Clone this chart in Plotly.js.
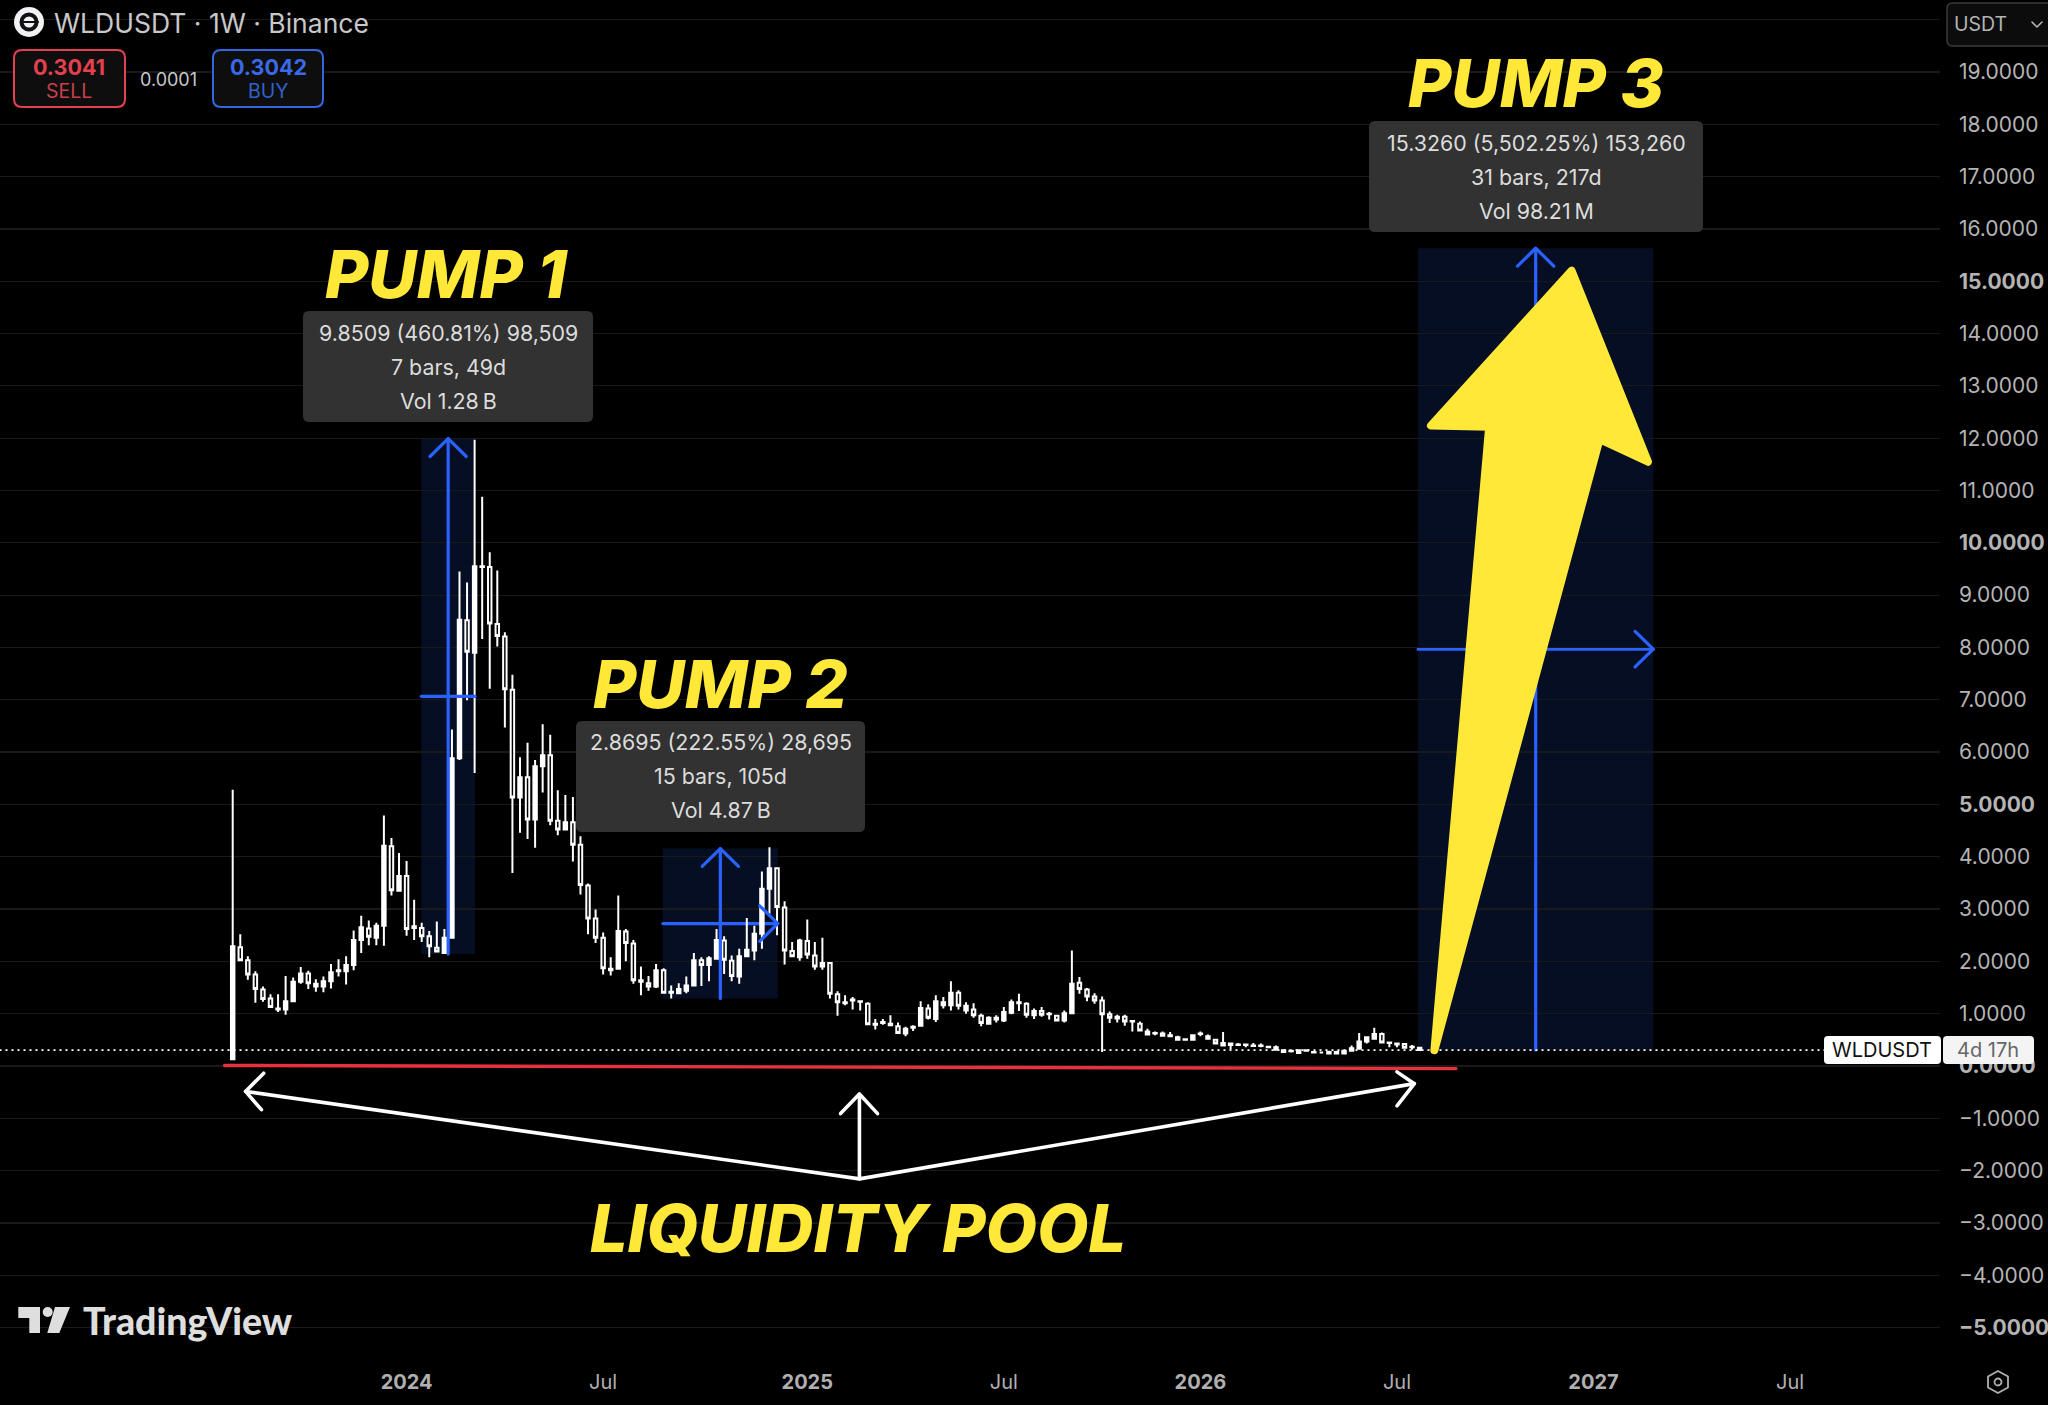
<!DOCTYPE html>
<html><head><meta charset="utf-8">
<script src="https://cdn.plot.ly/plotly-3.0.1.min.js"></script>
<style>html,body{margin:0;padding:0;background:#000}.shapelayer path,.layer-above path,.layer-below path{stroke-linejoin:round;stroke-linecap:round}</style>
</head><body><div id="chart" style="width:2048px;height:1405px"></div>
<script>
const firstWeek = '2023-07-24';
const opens = [.13,2.27,2.02,1.75,1.46,1.29,1.10,1.08,1.24,1.61,
1.77,1.52,1.52,1.62,1.81,1.81,1.93,2.41,2.63,2.45,
2.68,4.20,3.35,3.63,2.64,2.64,2.48,2.26,2.16,2.45,
5.88,8.52,7.90,9.55,9.54,8.45,8.21,7.19,5.13,5.52,
4.71,5.73,5.94,4.69,4.52,4.66,4.23,3.45,2.82,2.45,
1.83,1.86,2.57,2.34,1.64,1.58,1.52,1.83,1.40,1.39,
1.44,1.54,2.02,1.93,2.05,2.40,2.01,1.71,2.10,2.21,
2.53,3.39,3.78,3.03,2.20,2.08,2.39,2.11,1.90,1.97,
1.37,1.20,1.27,1.24,1.19,.81,.82,.78,.76,.62,
.75,.77,1.10,.90,1.22,1.16,1.40,1.06,1.08,.96,
.81,.89,.87,1.02,1.20,1.19,.97,1.05,1.00,.96,
.87,1.01,1.59,1.46,1.33,1.25,.99,.94,.94,.86,
.81,.66,.63,.58,.59,.50,.51,.50,.61,.57,
.50,.39,.43,.41,.41,.38,.39,.37,.31,.27,
.29,.25,.29,.27,.26,.24,.24,.24,.29,.33,
.47,.52,.61,.45,.43,.42,.37,.35];
const highs = [5.28,2.52,2.10,1.81,1.52,1.37,1.37,1.72,1.69,1.89,
1.82,1.66,1.71,1.95,2.04,2.10,2.59,2.87,2.78,2.74,
4.79,4.36,4.07,3.92,3.18,2.74,2.58,2.76,2.62,6.43,
9.45,9.24,11.97,10.88,9.82,9.47,8.29,7.48,5.90,6.18,
5.85,6.53,6.33,5.27,5.18,5.14,4.39,3.49,2.99,2.55,
2.08,3.26,2.62,2.41,1.90,1.72,1.95,1.87,1.54,1.58,
1.71,2.16,2.08,2.10,2.62,2.48,2.11,2.24,2.83,2.68,
3.72,4.18,3.80,3.15,2.37,2.43,2.80,2.37,2.45,1.98,
1.43,1.35,1.32,1.25,1.22,.90,.90,.97,.83,.75,
.78,1.24,1.18,1.35,1.32,1.62,1.45,1.22,1.20,1.00,
.95,.97,1.13,1.27,1.38,1.22,1.10,1.13,1.03,.97,
1.06,2.21,1.70,1.49,1.39,1.33,1.04,.98,.98,.87,
.85,.71,.66,.66,.65,.58,.52,.60,.66,.60,
.52,.65,.45,.44,.42,.44,.43,.38,.39,.31,
.31,.31,.32,.27,.27,.29,.29,.31,.39,.63,
.57,.73,.64,.45,.44,.44,.40,.36];
const lows = [.13,2.00,1.65,1.21,1.23,1.11,1.03,.98,1.23,1.57,
1.47,1.42,1.41,1.48,1.71,1.56,1.83,2.16,2.31,2.31,
2.30,3.26,3.34,2.49,2.41,2.37,2.08,2.17,2.14,2.43,
5.85,6.99,5.60,8.16,7.21,8.02,6.47,3.69,4.46,4.34,
4.17,5.23,4.60,4.41,4.51,3.91,3.28,2.52,2.35,1.75,
1.73,1.85,2.00,1.57,1.35,1.44,1.49,1.39,1.29,1.37,
1.39,1.52,1.53,1.62,2.05,1.76,1.62,1.57,2.08,2.02,
2.24,2.91,2.50,1.94,2.08,2.01,2.05,1.84,1.84,1.29,
.96,1.16,1.08,1.06,.78,.70,.79,.76,.62,.57,
.67,.76,.89,.84,1.10,1.06,1.08,1.00,.92,.76,
.79,.83,.84,.99,1.05,.92,.90,.94,.89,.86,
.83,1.00,1.38,1.24,1.19,.27,.82,.83,.77,.66,
.66,.59,.59,.57,.56,.49,.49,.49,.57,.50,
.42,.38,.32,.38,.36,.37,.36,.35,.30,.26,
.26,.24,.28,.25,.25,.24,.23,.23,.28,.32,
.43,.50,.44,.36,.36,.34,.31,.30];
const closes = [2.29,2.02,1.75,1.47,1.28,1.13,1.08,1.24,1.61,1.77,
1.58,1.57,1.62,1.79,1.83,1.93,2.41,2.65,2.47,2.68,
4.21,3.36,3.63,2.62,2.67,2.48,2.29,2.19,2.45,5.88,
8.53,7.92,9.55,9.54,8.46,8.22,7.20,5.13,5.52,4.71,
5.73,5.94,4.69,4.52,4.66,4.23,3.46,2.82,2.45,1.87,
1.86,2.58,2.35,1.64,1.61,1.52,1.83,1.40,1.42,1.47,
1.54,2.02,1.93,2.06,2.41,2.03,1.72,2.10,2.22,2.53,
3.39,3.78,3.04,2.21,2.10,2.40,2.13,1.90,1.97,1.38,
1.22,1.22,1.25,1.23,.80,.79,.84,.81,.63,.71,
.73,1.11,.92,1.24,1.16,1.40,1.15,1.15,.97,.82,
.92,.92,1.03,1.22,1.22,.98,1.05,.98,.99,.87,
1.01,1.57,1.47,1.33,1.25,.99,.92,.91,.85,.85,
.68,.60,.62,.62,.57,.55,.50,.59,.62,.52,
.43,.44,.40,.40,.40,.39,.38,.36,.36,.30,
.28,.30,.30,.26,.26,.27,.27,.29,.34,.47,
.55,.61,.45,.44,.41,.35,.36,.304];

const lastPrice = 0.304;
const priceTicks = [-5,-4,-3,-2,-1,0,1,2,3,4,5,6,7,8,9,10,11,12,13,14,15,16,17,18,19,20];
const boldPrices = [-5,0,5,10,15];
const timeTicks = ['2024-01-01','2024-07-01','2025-01-06','2025-07-07','2026-01-05','2026-07-06','2027-01-04','2027-07-05'];
const timeLabels = ['<b>2024</b>','Jul','<b>2025</b>','Jul','<b>2026</b>','Jul','<b>2027</b>','Jul'];

// measured ranges: first bar, last bar, low, high
const pumpNames = ['PUMP 1','PUMP 2','PUMP 3'];
const pumpStart = [24.95,56.9,156.8];
const pumpEnd = [32.05,72.1,187.9];
const pumpLow = [2.14,1.29,0.305];
const pumpHigh = [11.99,4.155,15.63];
const pumpStats = [
  ['9.8509 (460.81%) 98,509','7 bars, 49d','Vol 1.28\u2009B'],
  ['2.8695 (222.55%) 28,695','15 bars, 105d','Vol 4.87\u2009B'],
  ['15.3260 (5,502.25%) 153,260','31 bars, 217d','Vol 98.21\u2009M']];

// drawing: [bar, value] anchor points
const yellowArrow = [[177.1,15.2],[158.5,12.24],[166.2,12.22],[158.95,0.3],[180.8,11.98],[187.2,11.55]];
const poolFork = [82.9,-2.157];
const poolLeft = [1.7,-0.486], poolLeftHead = [[4.1,-0.137],[3.8,-0.835]];
const poolRight = [156.3,-0.337], poolRightHead = [[154.0,-0.112],[154.0,-0.761]];
const poolUp = [82.9,-0.536], poolUpHead = [[80.4,-0.91],[85.3,-0.91]];
const redLine = [[-1.07,0.01],[161.8,-0.05]];

const BLUE='#2962ff', YEL='#ffe838', PLOTW=1940, PLOTH=1358;
const t0 = Date.parse(firstWeek+'T00:00:00Z');
const D = b => new Date(t0 + b*7*864e5).toISOString().slice(0,19).replace('T',' ');
const DP = b => D(b).replace(' ','_');
const weeks = opens.map((_,i)=>D(i));
const PX = x => x/PLOTW, PY = y => 1-y/PLOTH;

const shapes=[], annotations=[];
const dataPath = (pts,close) => pts.map((p,i)=>(i?'L':'M')+DP(p[0])+' '+p[1]).join(' ')+(close?' Z':'');
function polyline(pts,color,w,layer){shapes.push({type:'path',xref:'x',yref:'y',path:dataPath(pts),line:{color:color,width:w},layer:layer||'above'});}
pumpNames.forEach((n,i)=>{
  const s=pumpStart[i],e=pumpEnd[i],lo=pumpLow[i],hi=pumpHigh[i],mx=(s+e)/2,my=(lo+hi)/2;
  shapes.push({type:'rect',xref:'x',yref:'y',x0:D(s),x1:D(e),y0:lo,y1:hi,fillcolor:'rgba(41,98,255,0.14)',line:{width:0},layer:'below'});
  polyline([[s,my],[e,my]],BLUE,3.2,i===0?'above':'below');
  polyline([[mx,lo],[mx,hi]],BLUE,3.2);
  polyline([[mx-2.4,hi-0.34],[mx,hi],[mx+2.4,hi-0.34]],BLUE,3.2);
  if(i>0) polyline([[e-2.4,my+0.34],[e,my],[e-2.4,my-0.34]],BLUE,3.2);
});
shapes.push({type:'line',xref:'paper',yref:'y',x0:0,x1:1,y0:lastPrice,y1:lastPrice,line:{color:'#ffffff',width:1.6,dash:'1px 5px'},layer:'above'});
polyline(redLine,'#e6323f',3.4);
polyline([poolLeft,poolFork,poolRight],'#ffffff',3.6);
polyline([poolUp,poolFork],'#ffffff',3.6);
polyline([poolLeftHead[0],poolLeft,poolLeftHead[1]],'#ffffff',3.6);
polyline([poolRightHead[0],poolRight,poolRightHead[1]],'#ffffff',3.6);
polyline([poolUpHead[0],poolUp,poolUpHead[1]],'#ffffff',3.6);
shapes.push({type:'path',xref:'x',yref:'y',path:dataPath(yellowArrow,true),fillcolor:YEL,line:{color:YEL,width:8},layer:'above'});

// screen chrome
function rr(x0,y0,x1,y1,r){const X=PX,Y=PY,kx=r,ky=r;return `M${X(x0+kx)} ${Y(y0)} L${X(x1-kx)} ${Y(y0)} Q${X(x1)} ${Y(y0)} ${X(x1)} ${Y(y0+ky)} L${X(x1)} ${Y(y1-ky)} Q${X(x1)} ${Y(y1)} ${X(x1-kx)} ${Y(y1)} L${X(x0+kx)} ${Y(y1)} Q${X(x0)} ${Y(y1)} ${X(x0)} ${Y(y1-ky)} L${X(x0)} ${Y(y0+ky)} Q${X(x0)} ${Y(y0)} ${X(x0+kx)} ${Y(y0)} Z`;}
function box(x0,y0,x1,y1,r,fill,stroke,w){shapes.push({type:'path',xref:'paper',yref:'paper',path:rr(x0,y0,x1,y1,r),fillcolor:fill,line:stroke?{color:stroke,width:w||2}:{width:0},layer:'above'});}
function pxPath(pts,fill,stroke,w){shapes.push({type:'path',xref:'paper',yref:'paper',path:pts.map((p,i)=>(i?'L':'M')+PX(p[0])+' '+PY(p[1])).join(' ')+(fill?' Z':''),fillcolor:fill||'rgba(0,0,0,0)',line:stroke?{color:stroke,width:w}:{width:0},layer:'above'});}
function circ(cx,cy,r,fill,stroke,w){shapes.push({type:'circle',xref:'paper',yref:'paper',x0:PX(cx-r),x1:PX(cx+r),y0:PY(cy+r),y1:PY(cy-r),fillcolor:fill,line:stroke?{color:stroke,width:w}:{width:0},layer:'above'});}
function note(text,x,y,size,color,o){o=o||{};annotations.push({text:text,xref:'paper',yref:'paper',x:PX(x),y:PY(y),xanchor:o.anchor||'center',yanchor:'middle',showarrow:false,
  font:{family:o.family||'Inter, sans-serif',size:size,color:color,weight:o.weight||400,style:o.style||'normal'}});}

const tipBox=[[303,311,593,422],[576,721,865,832],[1369,121,1703,232]];
const tipLines=[[333,367,401],[742,776,810],[143,177,211]];
const bigPos=[[446,274],[720,684],[1536,83]];
pumpNames.forEach((n,i)=>{
  const b=tipBox[i];box(b[0],b[1],b[2],b[3],6,'#323232');
  pumpStats[i].forEach((t,j)=>note(t,(b[0]+b[2])/2,tipLines[i][j],21.4,'#dcdcdc'));
  note(n,bigPos[i][0],bigPos[i][1],66.5,YEL,{weight:800,style:'italic'});
});
note('LIQUIDITY POOL',858,1228,66.5,YEL,{weight:800,style:'italic'});

// header
circ(29,22,15,'#f2f2f5');circ(29,22,9.5,'#111');circ(29,22,5.5,'#f2f2f5');
pxPath([[22,22],[38,22]],null,'#111',2);
note('WLDUSDT · 1W · Binance',52,23,26.5,'#c8c8c8',{anchor:'left'});
box(14,50,125,107,8,'#0e0e0e','#e5404f',2);
note('0.3041',69,67,21.5,'#e5404f',{weight:700});note('SELL',69,91,19.5,'#c8404c');
note('0.0001',168,79,18,'#c8c8c8');
box(213,50,323,107,8,'#0e0e0e','#3566e0',2);
note('0.3042',268,67,21.5,'#3a6ae8',{weight:700});note('BUY',268,91,19.5,'#3161cc');
// currency selector
box(1947,3,2060,46,6,'#0c0c0c','#3a3a3a',1.5);
note('USDT',1981,24,19.5,'#b4b4b4');
pxPath([[2032,22],[2037,27],[2042,22]],null,'#b4b4b4',1.6);
// last price tag
box(1824,1036,1941,1064,4,'#ffffff');
box(1943,1036,2034,1064,4,'#f4f4f4');
note('WLDUSDT',1882,1050,20,'#111');
note('4d 17h',1988,1050,20,'#666');
// footer
pxPath([[18.3,1307],[40,1307],[40,1333],[29.3,1333],[29.3,1318],[18.3,1318]],'#dedede');
circ(47.7,1312,5,'#dedede');
pxPath([[55,1307],[70,1307],[59.3,1333],[47.3,1333]],'#dedede');
note('TradingView',81,1320,37.5,'#dedede',{anchor:'left',weight:900,family:'Lato, sans-serif'});
// settings icon
pxPath([[1998,1371],[2008,1376.5],[2008,1387.5],[1998,1393],[1988,1387.5],[1988,1376.5]],'rgba(0,0,0,0)','#b0b0b0',1.8);
circ(1998,1382,3.5,'#000','#b0b0b0',1.8);

const trace={type:'candlestick',x:weeks,open:opens,high:highs,low:lows,close:closes,whiskerwidth:0,hoverinfo:'skip',showlegend:false,
  increasing:{line:{color:'#ffffff',width:2},fillcolor:'#ffffff'},
  decreasing:{line:{color:'#ffffff',width:2},fillcolor:'#000000'}};
const layout={width:2048,height:1405,margin:{l:0,r:108,t:0,b:47,pad:0},paper_bgcolor:'#000',plot_bgcolor:'#000',showlegend:false,boxgap:0.35,
  font:{family:'Inter, sans-serif',color:'#b4b4b4',size:20},
  xaxis:{type:'date',range:[D(-30.78),D(225.83)],tickmode:'array',tickvals:timeTicks,ticktext:timeLabels,showgrid:false,zeroline:false,showline:false,ticks:'',ticklabelstandoff:10,
    rangeslider:{visible:false},tickfont:{size:20,color:'#b0b0b0'},tickangle:0},
  yaxis:{side:'right',range:[-5.581,20.375],tickmode:'array',tickvals:priceTicks,
    ticktext:priceTicks.map(v=>{if(v===20)return '';const s=(v<0?'\u2212':'')+Math.abs(v).toFixed(4);return boldPrices.includes(v)?'<b>'+s+'</b>':s;}),
    showgrid:true,gridcolor:'#191919',gridwidth:1.2,zeroline:false,showline:false,ticks:'',ticklabelstandoff:18,tickfont:{size:21,color:'#b4b4b4'}},
  shapes:shapes,annotations:annotations};
Plotly.newPlot('chart',[trace],layout,{staticPlot:true,displayModeBar:false});
</script></body></html>
